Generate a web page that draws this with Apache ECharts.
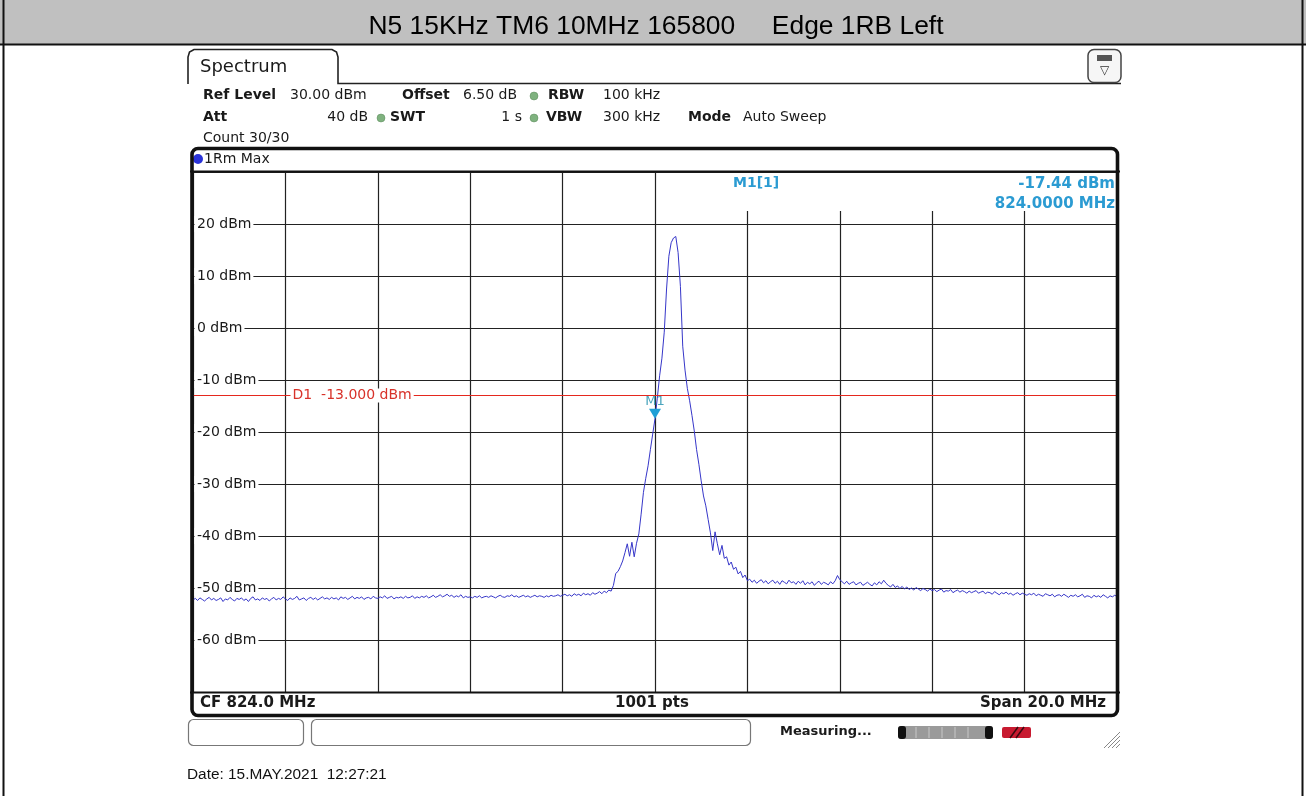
<!DOCTYPE html>
<html><head><meta charset="utf-8">
<script src="https://cdn.jsdelivr.net/npm/echarts@6/dist/echarts.min.js"></script>
<style>html,body{margin:0;padding:0;background:#fff}#c{width:1306px;height:796px}</style>
</head><body><div id="c"></div><script>
// ---- data ----
const FREQ_START_MHZ = 814;
const FREQ_STEP_MHZ = 0.05;
const FREQ_END_MHZ = 834;
const LEVEL_DBM = [
 -52.3,-52.0,-52.4,-51.9,-52.2,-52.5,-52.1,-51.8,-52.3,-52.0,-52.4,-52.2,-51.9,-52.6,-52.1,-52.3,-51.8,-52.2,-52.5,-52.0,
 -52.2,-51.9,-52.4,-52.1,-52.6,-52.0,-51.7,-52.3,-52.1,-52.4,-51.9,-52.2,-52.0,-52.5,-52.1,-51.8,-52.3,-52.0,-52.2,-51.7,
 -52.1,-52.4,-51.9,-52.2,-52.0,-51.6,-52.3,-52.1,-51.9,-52.4,-52.0,-51.8,-52.2,-51.9,-52.3,-52.0,-51.7,-52.1,-51.9,-52.2,
 -51.8,-52.1,-51.9,-52.3,-51.7,-52.0,-51.8,-52.2,-51.9,-51.6,-52.1,-51.8,-52.0,-51.7,-52.2,-51.9,-51.8,-52.1,-51.6,-51.9,
 -52.0,-51.7,-51.9,-51.5,-52.0,-51.8,-51.6,-52.1,-51.8,-51.9,-51.7,-52.0,-51.6,-51.9,-51.8,-51.5,-52.0,-51.7,-51.9,-51.6,
 -51.8,-51.5,-51.9,-51.7,-51.4,-51.8,-51.6,-51.3,-51.7,-51.5,-51.2,-51.6,-51.4,-51.8,-51.5,-51.7,-51.3,-51.9,-51.6,-51.8,
 -51.7,-51.9,-51.6,-51.8,-51.5,-51.9,-51.7,-51.6,-51.8,-51.5,-51.7,-51.9,-51.6,-51.4,-51.7,-51.8,-51.5,-51.6,-51.3,-51.7,
 -51.5,-51.8,-51.6,-51.4,-51.7,-51.5,-51.8,-51.6,-51.4,-51.7,-51.5,-51.6,-51.8,-51.5,-51.7,-51.4,-51.6,-51.5,-51.3,-51.6,
 -51.4,-51.2,-51.5,-51.3,-51.6,-51.1,-51.4,-51.2,-51.5,-51.0,-51.3,-51.1,-51.4,-50.9,-51.2,-51.0,-50.7,-51.1,-50.6,-50.9,-50.4,
 -50.6,-49.5,-47.2,-46.8,-45.9,-44.8,-43.2,-41.5,-43.9,-41.2,-44.0,-41.4,-39.6,-35.8,-31.6,-28.9,-26.5,-23.4,-20.4,-17.44,
 -13.5,-9.2,-5.8,-0.8,7.5,13.8,16.4,17.3,17.6,14.5,8.0,-3.5,-8.1,-11.6,-14.0,-16.8,-19.8,-23.4,-26.2,-29.4,
 -32.3,-34.2,-36.8,-39.4,-42.8,-39.2,-41.5,-43.6,-41.8,-44.3,-44.0,-45.6,-45.0,-46.4,-46.0,-47.3,-46.8,-48.0,-47.5,-48.6,
 -48.3,-48.9,-48.5,-49.1,-48.7,-48.4,-49.0,-48.6,-49.2,-48.8,-48.5,-49.1,-48.7,-49.3,-48.6,-48.9,-49.2,-48.5,-49.0,-48.8,
 -49.3,-48.7,-49.1,-48.6,-49.4,-48.9,-49.2,-48.8,-49.5,-49.0,-48.7,-49.3,-48.9,-49.1,-49.4,-48.8,-49.2,-48.6,-47.6,-48.4,
 -48.8,-49.2,-48.7,-49.3,-49.0,-48.8,-49.4,-49.1,-48.9,-49.5,-49.2,-48.9,-49.3,-49.6,-49.0,-49.4,-48.8,-49.2,-48.5,-49.1,
 -49.5,-49.8,-49.3,-49.9,-49.6,-50.1,-49.7,-50.2,-49.8,-50.3,-50.0,-50.4,-49.9,-50.2,-50.5,-50.1,-50.3,-50.6,-50.2,-50.5,
 -50.3,-50.7,-50.4,-50.2,-50.8,-50.5,-50.6,-50.3,-50.9,-50.6,-50.4,-50.8,-50.5,-50.7,-51.0,-50.6,-50.9,-50.7,-50.5,-51.0,
 -50.8,-50.6,-51.1,-50.8,-50.9,-51.2,-50.7,-51.0,-51.3,-50.9,-51.1,-50.8,-51.2,-51.0,-51.4,-51.1,-50.9,-51.3,-51.0,-51.2,
 -51.4,-51.1,-51.3,-51.0,-51.5,-51.2,-51.4,-51.6,-51.1,-51.3,-51.5,-51.2,-51.7,-51.4,-51.3,-51.6,-51.2,-51.5,-51.8,-51.4,
 -51.6,-51.3,-51.7,-51.5,-51.2,-51.8,-51.5,-51.6,-51.9,-51.4,-51.7,-51.5,-51.8,-51.3,-51.6,-51.9,-51.5,-51.7,-51.4,-51.6
];
const Y_MIN = -70, Y_MAX = 30, Y_STEP = 10;
const X_STEP = 2;
const MARKER_M1 = [824.0, -17.44];
const D1_LEVEL = -13;
const D1_LABEL_FREQ = 816.1;

const TITLE = 'N5 15KHz TM6 10MHz 165800     Edge 1RB Left';

// ---- build ----
const traceData = LEVEL_DBM.map((v, i) => [+(FREQ_START_MHZ + i * FREQ_STEP_MHZ).toFixed(2), v]);

const FF = '"DejaVu Sans", Verdana, sans-serif';
const Z = 100;
function T(text, x, y, o) {
  o = o || {};
  return {type: 'text', x: x, y: y, z: o.z || Z,
    style: {text: text, font: (o.bold ? 'bold ' : '') + (o.size || 14) + 'px ' + (o.family || FF),
      fill: o.color || '#1a1a1a', align: o.align || 'left', verticalAlign: 'middle',
      textAlign: o.align || 'left', textVerticalAlign: 'middle'}};
}
function L(x1, y1, x2, y2, color, w, z) {
  return {type: 'line', z: z || Z, shape: {x1, y1, x2, y2}, style: {stroke: color || '#111', lineWidth: w || 1}};
}
function R(x, y, w, h, o) {
  o = o || {};
  return {type: 'rect', z: o.z || Z, shape: {x, y, width: w, height: h, r: o.r || 0},
    style: {fill: o.fill || 'none', stroke: o.stroke || null, lineWidth: o.lw || 1}};
}
const dot = (cx, cy, col) => ({type: 'circle', z: Z, shape: {cx, cy, r: 4}, style: {fill: col, stroke: '#5a8a5a', lineWidth: 0.5}});

const graphics = [
  R(0, 0, 1306, 44, {fill: '#c0c0c0', z: 1}),
  L(0, 44.5, 1306, 44.5, '#111', 2),
  L(3.5, 0, 3.5, 796, '#111', 2),
  L(1302.5, 0, 1302.5, 796, '#111', 2),
  T(TITLE, 656, 27, {family: '"Liberation Sans", Arial, sans-serif', size: 26.4, color: '#000', align: 'center'}),
  // tab
  {type: 'polyline', z: Z, shape: {points: [[188, 84], [188, 57], [189.5, 52], [194, 49.5], [332, 49.5], [336.5, 52], [338, 57], [338, 83.5], [1121, 83.5]]},
    style: {stroke: '#222', lineWidth: 1.6, fill: null}},
  T('Spectrum', 200, 67, {size: 18}),
  // icon
  R(1088, 49.5, 33, 33, {r: 6, stroke: '#444', lw: 1.5, fill: '#f6f6f6'}),
  R(1097, 55, 15, 6, {fill: '#555'}),
  T('\u25BD', 1104.5, 71, {size: 12, align: 'center', color: '#333'}),
  // info
  T('Ref Level', 203, 95, {bold: true}), T('30.00 dBm', 290, 95),
  T('Offset', 402, 95, {bold: true}), T('6.50 dB', 463, 95),
  dot(534, 96, '#7fb27f'),
  T('RBW', 548, 95, {bold: true}), T('100 kHz', 603, 95),
  T('Att', 203, 117, {bold: true}), T('40 dB', 368, 117, {align: 'right'}),
  dot(381, 118, '#7fb27f'),
  T('SWT', 390, 117, {bold: true}), T('1 s', 522, 117, {align: 'right'}),
  dot(534, 118, '#7fb27f'),
  T('VBW', 546, 117, {bold: true}), T('300 kHz', 603, 117),
  T('Mode', 688, 117, {bold: true}), T('Auto Sweep', 743, 117),
  T('Count 30/30', 203, 138),
  // diagram frame
  R(192, 148.5, 925.5, 567, {r: 6, stroke: '#111', lw: 3.6, z: 110}),
  L(190, 171.5, 1120, 171.5, '#111', 2.2, 110),
  L(190, 692.5, 1120, 692.5, '#111', 2.2, 110),
  {type: 'circle', z: Z, shape: {cx: 198, cy: 159, r: 5}, style: {fill: '#2a33d8'}},
  T('1Rm Max', 204, 159, {size: 14}),
  // marker readout
  R(660, 173, 456, 38, {fill: '#fff', z: 20}),
  T('M1[1]', 733, 183, {bold: true, size: 14, color: '#2b9bd2'}),
  T('-17.44 dBm', 1115, 184, {bold: true, size: 15, color: '#2b9bd2', align: 'right'}),
  T('824.0000 MHz', 1115, 204, {bold: true, size: 15, color: '#2b9bd2', align: 'right'}),
  // bottom strip
  T('CF 824.0 MHz', 200, 703, {bold: true, size: 15}),
  T('1001 pts', 652, 703, {bold: true, size: 15, align: 'center'}),
  T('Span 20.0 MHz', 1106, 703, {bold: true, size: 15, align: 'right'}),
  // lower panel
  R(188.5, 719.5, 115, 26, {r: 5, stroke: '#777', lw: 1.2, fill: '#fff'}),
  R(311.5, 719.5, 439, 26, {r: 5, stroke: '#777', lw: 1.2, fill: '#fff'}),
  T('Measuring...', 780, 732, {bold: true, size: 13}),
  R(898, 726, 95, 13, {r: 3, fill: '#9a9a9a'}),
  R(898, 726, 8, 13, {r: 3, fill: '#111'}),
  R(985, 726, 8, 13, {r: 3, fill: '#111'}),
  L(916, 727, 916, 738, '#c8c8c8', 1), L(929, 727, 929, 738, '#c8c8c8', 1), L(942, 727, 942, 738, '#c8c8c8', 1),
  L(955, 727, 955, 738, '#c8c8c8', 1), L(968, 727, 968, 738, '#c8c8c8', 1),
  R(1002, 727, 29, 11, {r: 2, fill: '#c81a30'}),
  L(1010, 738, 1018, 727, '#3a0a10', 1.5), L(1016, 738, 1024, 727, '#3a0a10', 1.5),
  L(1104, 748, 1120, 732, '#888', 1), L(1108, 748, 1120, 736, '#888', 1),
  L(1112, 748, 1120, 740, '#888', 1), L(1116, 748, 1120, 744, '#888', 1),
  T('Date: 15.MAY.2021  12:27:21', 187, 775, {family: '"Liberation Sans", Arial, sans-serif', size: 15.4, color: '#111'})
];

const chart = echarts.init(document.getElementById('c'), null, {renderer: 'canvas'});
chart.setOption({
  animation: false,
  backgroundColor: '#fff',
  grid: {left: 193, top: 172, width: 924, height: 520, containLabel: false},
  xAxis: {type: 'value', min: FREQ_START_MHZ, max: FREQ_END_MHZ, interval: X_STEP,
    axisLabel: {show: false}, axisTick: {show: false}, axisLine: {show: false},
    splitLine: {show: true, lineStyle: {color: '#222', width: 1.2}}},
  yAxis: {type: 'value', min: Y_MIN, max: Y_MAX, interval: Y_STEP,
    axisTick: {show: false}, axisLine: {show: false},
    axisLabel: {inside: true, margin: 1.5, showMinLabel: false, showMaxLabel: false,
      formatter: v => v + ' dBm', color: '#1a1a1a', fontSize: 14, fontFamily: 'DejaVu Sans',
      backgroundColor: '#fff', padding: [1, 2, 1, 2.5]},
    splitLine: {show: true, lineStyle: {color: '#222', width: 1.2}}},
  graphic: {elements: graphics},
  series: [{
    type: 'line', data: traceData, showSymbol: false, symbol: 'none', silent: true, z: 3,
    lineStyle: {color: '#3636c9', width: 1},
    markLine: {silent: true, symbol: 'none', animation: false,
      data: [{yAxis: D1_LEVEL}],
      lineStyle: {color: '#e5281e', width: 1, type: 'solid'}, label: {show: false}},
    markPoint: {silent: true, animation: false, data: [
      {coord: MARKER_M1, symbol: 'triangle', symbolRotate: 180, symbolSize: [12, 10], symbolOffset: [0, -5],
        itemStyle: {color: '#1f9fd6'},
        label: {show: true, formatter: 'M1', position: 'top', distance: 1, color: '#4aa5bd', fontSize: 13, fontFamily: 'DejaVu Sans'}},
      {coord: [D1_LABEL_FREQ, D1_LEVEL], symbol: 'rect', symbolSize: 1, itemStyle: {color: 'rgba(0,0,0,0)'},
        label: {show: true, formatter: 'D1  -13.000 dBm', position: 'right', distance: 0, color: '#d8322a',
          fontSize: 14, fontFamily: 'DejaVu Sans', backgroundColor: '#fff', padding: [0, 2]}}
    ]}
  }]
});
</script></body></html>
